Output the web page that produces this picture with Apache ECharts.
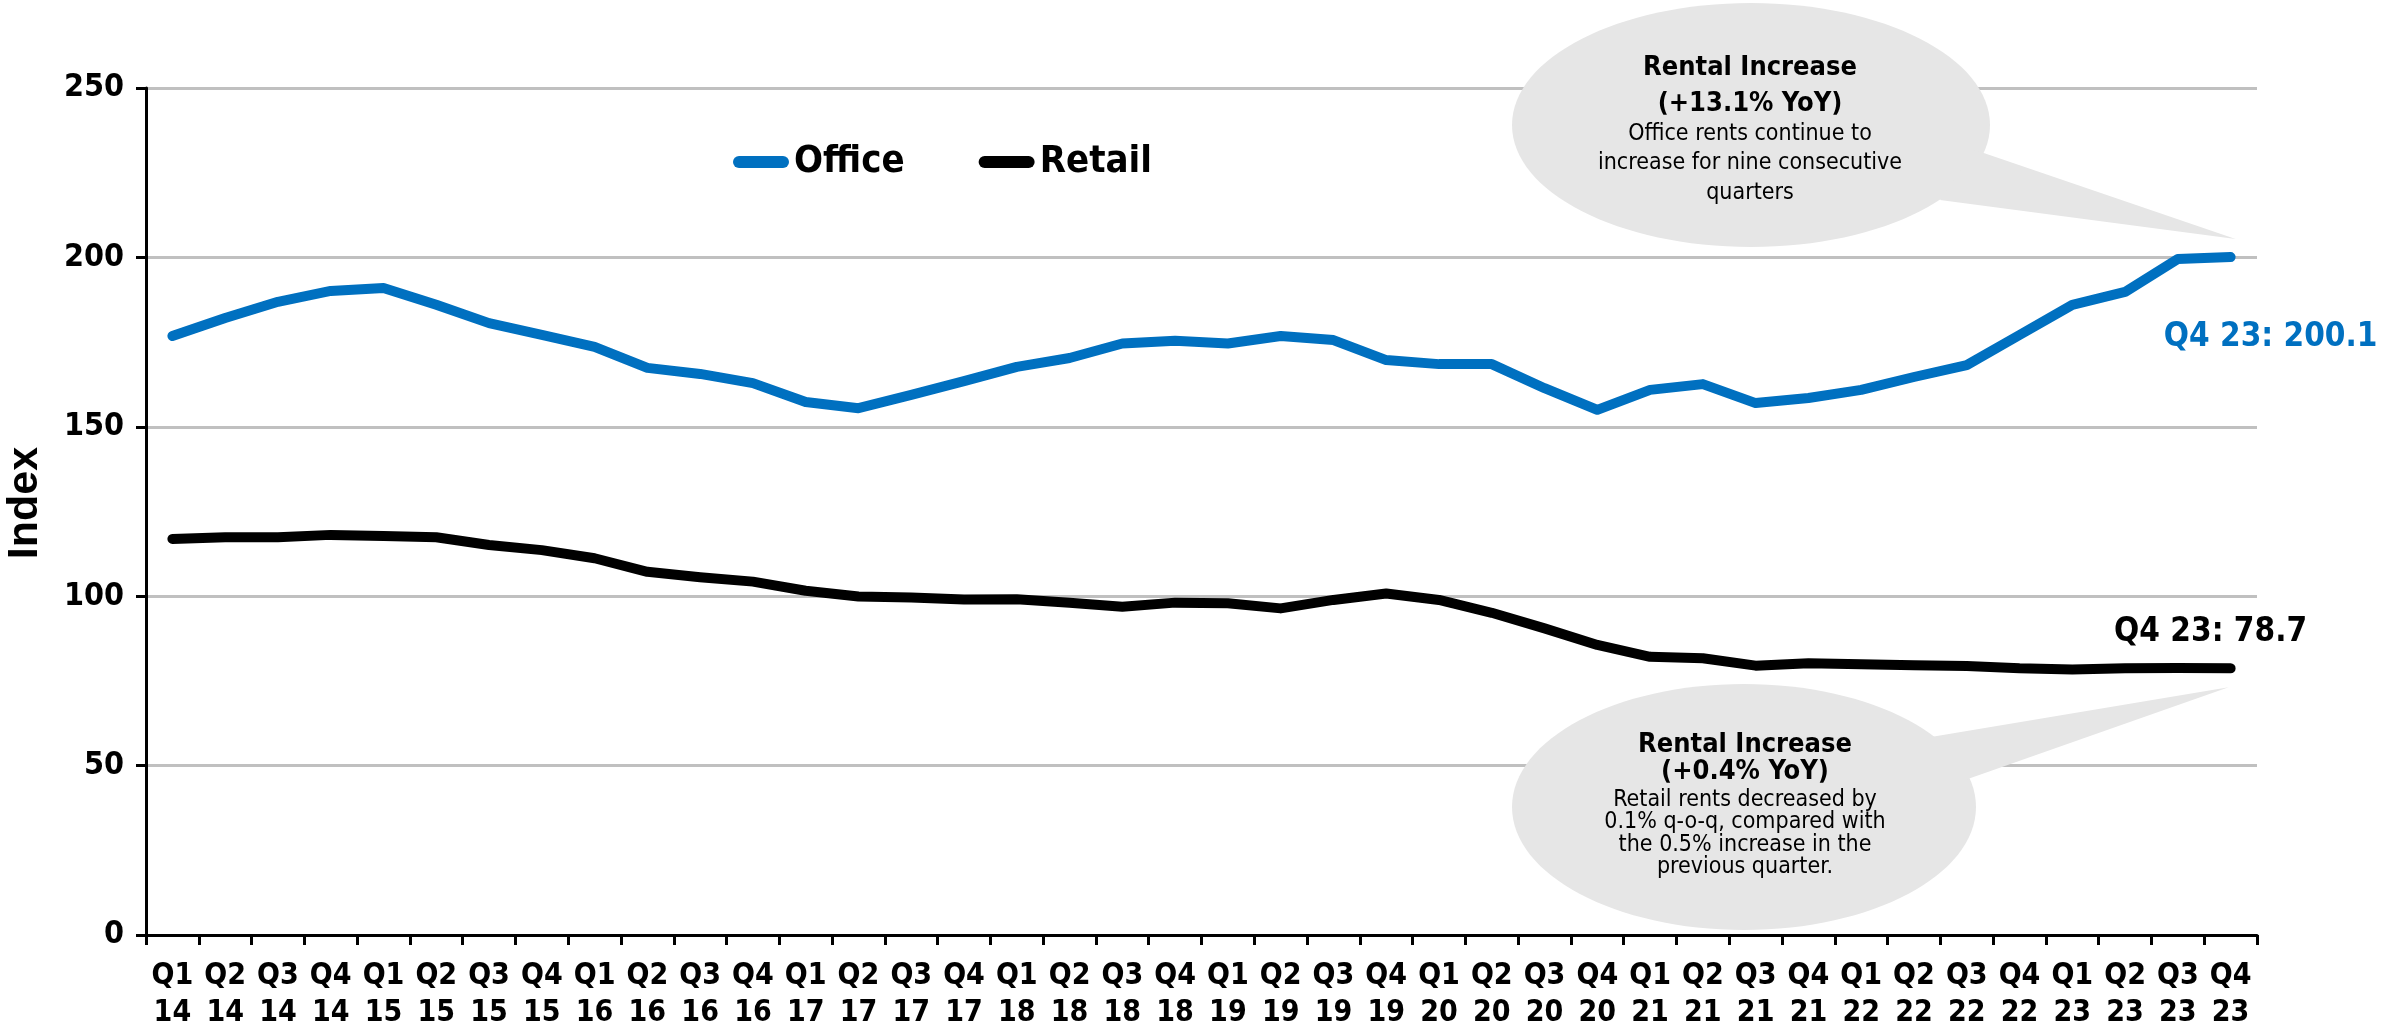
<!DOCTYPE html>
<html>
<head>
<meta charset="utf-8">
<script src="https://cdn.jsdelivr.net/npm/echarts@6/dist/echarts.min.js"></script>
<style>
html,body{margin:0;padding:0;background:#fff;}
#main{width:2384px;height:1023px;}
</style>
</head>
<body>
<div id="main"></div>
<script>
const categories = ['Q1\n14','Q2\n14','Q3\n14','Q4\n14','Q1\n15','Q2\n15','Q3\n15','Q4\n15','Q1\n16','Q2\n16','Q3\n16','Q4\n16','Q1\n17','Q2\n17','Q3\n17','Q4\n17','Q1\n18','Q2\n18','Q3\n18','Q4\n18','Q1\n19','Q2\n19','Q3\n19','Q4\n19','Q1\n20','Q2\n20','Q3\n20','Q4\n20','Q1\n21','Q2\n21','Q3\n21','Q4\n21','Q1\n22','Q2\n22','Q3\n22','Q4\n22','Q1\n23','Q2\n23','Q3\n23','Q4\n23'];
const office = [176.8,182.1,186.9,190.1,191.0,186.0,180.6,177.1,173.6,167.4,165.6,162.9,157.3,155.5,159.4,163.5,167.7,170.3,174.6,175.4,174.6,176.8,175.6,169.7,168.5,168.5,161.4,155.0,160.9,162.6,157.0,158.5,160.9,164.7,168.2,177.1,186.0,189.8,199.5,200.1];
const retail = [116.9,117.4,117.4,118.1,117.8,117.4,115.1,113.6,111.2,107.2,105.6,104.3,101.6,99.9,99.6,99.0,99.1,98.1,96.9,98.1,97.9,96.4,98.9,100.8,98.9,95.1,90.5,85.6,82.1,81.7,79.5,80.2,79.9,79.6,79.4,78.7,78.4,78.7,78.8,78.7];
const seriesNames = ['Office','Retail'];
const yTicks = {min:0, max:250, interval:50};
const officeNote = {title:['Rental Increase','(+13.1% YoY)'], body:['Office rents continue to','increase for nine consecutive','quarters']};
const retailNote = {title:['Rental Increase','(+0.4% YoY)'], body:['Retail rents decreased by','0.1% q-o-q, compared with','the 0.5% increase in the','previous quarter.']};

const NARROW = "'Liberation Sans Narrow','Arial Narrow','DejaVu Sans Condensed',sans-serif";
const BLUE = '#0070C0';
const chart = echarts.init(document.getElementById('main'));
chart.setOption({
  animation:false,
  backgroundColor:'#fff',
  grid:{left:146,right:127,top:88,bottom:88,containLabel:false,outerBoundsMode:'none'},
  legend:{
    left:728, top:138, itemWidth:56, itemHeight:12, itemGap:74,
    icon:'path://M6,0 H50 A6,6 0 0 1 50,12 H6 A6,6 0 0 1 6,0 Z',
    textStyle:{fontFamily:NARROW,fontWeight:'bold',fontSize:38,color:'#000'},
    data:seriesNames
  },
  xAxis:{
    type:'category', data:categories, boundaryGap:true,
    axisLine:{lineStyle:{color:'#000',width:3}},
    axisTick:{show:true,length:10,lineStyle:{color:'#000',width:3}},
    axisLabel:{fontFamily:NARROW,fontWeight:'bold',fontSize:30,color:'#000',lineHeight:37,margin:23,interval:0}
  },
  yAxis:{
    type:'value', min:yTicks.min, max:yTicks.max, interval:yTicks.interval,
    axisLine:{show:true,lineStyle:{color:'#000',width:3}},
    axisTick:{show:true,length:10,lineStyle:{color:'#000',width:3}},
    splitLine:{lineStyle:{color:'#C0C0C0',width:3}},
    axisLabel:{fontFamily:NARROW,fontWeight:'bold',fontSize:32,color:'#000',margin:22}
  },
  series:[
    {name:seriesNames[0],type:'line',data:office,symbol:'none',color:BLUE,lineStyle:{color:BLUE,width:10,cap:'round',join:'round'},z:3},
    {name:seriesNames[1],type:'line',data:retail,symbol:'none',color:'#000',lineStyle:{color:'#000',width:10,cap:'round',join:'round'},z:3}
  ]
});

const last = categories.length-1;
const pO = chart.convertToPixel({xAxisIndex:0,yAxisIndex:0},[last, office[last]]);
const pR = chart.convertToPixel({xAxisIndex:0,yAxisIndex:0},[last, retail[last]]);

function bubble(cx,cy,rx,ry,b1,b2,tip){
  return [
    {type:'ellipse',shape:{cx:cx,cy:cy,rx:rx,ry:ry},style:{fill:'#E6E6E6'},z:10},
    {type:'polygon',shape:{points:[b1,b2,tip]},style:{fill:'#E6E6E6'},z:10}
  ];
}
function lines(arr,cx,y0,lh,size,bold){
  return arr.map((t,i)=>({type:'text',x:cx,y:y0+i*lh,z:12,style:{text:t,textAlign:'center',textVerticalAlign:'middle',fontFamily:NARROW,fontSize:size,fontWeight:bold?'bold':'normal',fill:'#000'}}));
}
const g = [];
g.push(...bubble(1751,125,239,122,[1975,150],[1940,200],[pO[0]+5,pO[1]-18]));
g.push(...lines(officeNote.title,1750,68,36,27,true));
g.push(...lines(officeNote.body,1750,134,29.5,23,false));
g.push(...bubble(1744,807,232,123,[1925,738],[1965,780],[pR[0]-2,pR[1]+19]));
g.push(...lines(retailNote.title,1745,745,27,27,true));
g.push(...lines(retailNote.body,1745,800,22.5,23,false));
g.push({type:'text',x:pO[0]+40,y:pO[1]+80,z:12,style:{text:'Q4 23: '+office[last].toFixed(1),textAlign:'center',textVerticalAlign:'middle',fontFamily:NARROW,fontWeight:'bold',fontSize:33,fill:BLUE}});
g.push({type:'text',x:pR[0]-20,y:pR[1]-36,z:12,style:{text:'Q4 23: '+retail[last].toFixed(1),textAlign:'center',textVerticalAlign:'middle',fontFamily:NARROW,fontWeight:'bold',fontSize:33,fill:'#000'}});
g.push({type:'text',x:25,y:503,rotation:Math.PI/2,z:12,style:{text:'Index',textAlign:'center',textVerticalAlign:'middle',fontFamily:"'Liberation Sans',Arial,sans-serif",fontWeight:'bold',fontSize:43,fill:'#000'}});
chart.setOption({graphic:g});
</script>
</body>
</html>
